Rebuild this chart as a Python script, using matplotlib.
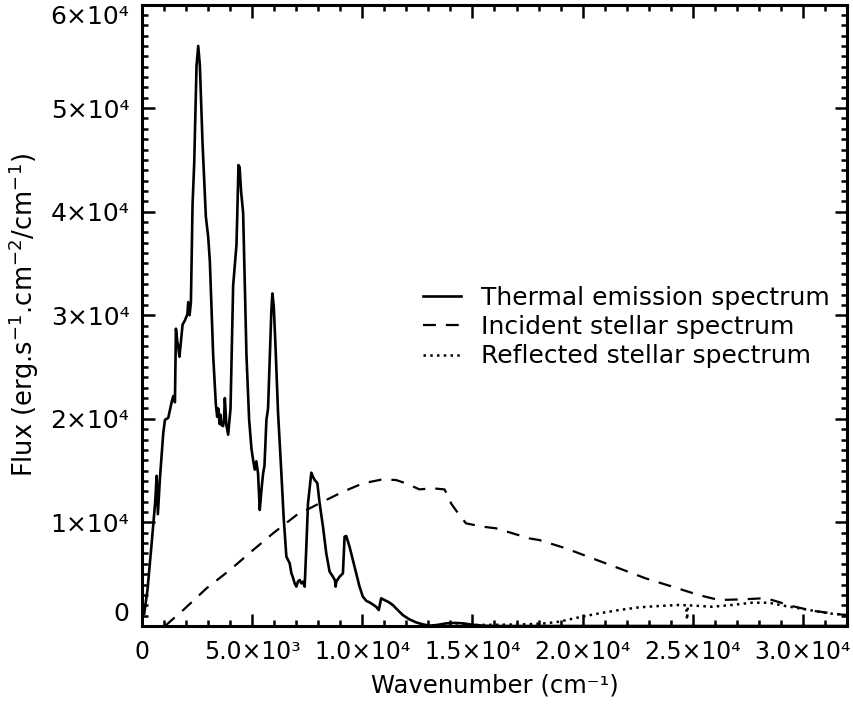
import matplotlib
matplotlib.use("Agg")
import matplotlib.pyplot as plt
from matplotlib.ticker import MultipleLocator, FixedLocator, FixedFormatter

# ---------------- data ----------------
thermal_wn = [100, 250, 439, 600, 665, 720, 815, 966, 1042, 1193, 1344, 1419, 1495, 1540, 1600,
              1646, 1700, 1842, 1948, 2060, 2099, 2160, 2220, 2295, 2370, 2475, 2552, 2627, 2748,
              2899, 3003, 3080, 3231, 3352, 3412, 3460, 3520, 3560, 3610, 3680, 3720, 3760, 3830,
              3911, 4018, 4137, 4213, 4288, 4318, 4379, 4430, 4499, 4590, 4742, 4863, 4969, 5045,
              5118, 5190, 5269, 5345, 5420, 5496, 5560, 5647, 5722, 5798, 5873, 5919, 5980, 6054,
              6175, 6327, 6432, 6553, 6704, 6780, 6850, 6930, 7007, 7080, 7157, 7230, 7300, 7383,
              7459, 7535, 7686, 7760, 7836, 7957, 8063, 8214, 8365, 8516, 8667, 8760, 8790, 8817,
              8969, 9119, 9195, 9270, 9421, 9572, 9723, 9874, 10024, 10175, 10401, 10627, 10748,
              10855, 11005, 11156, 11232, 11382, 11533, 11835, 12139, 12441, 12742, 13045, 13400,
              13800, 14200, 14600, 15000, 15500, 16000, 20000, 25000, 32000]
thermal_flux = [1200, 3500, 8000, 12000, 14500, 10800, 14300, 18650, 19900, 20100, 21600, 22200,
                21600, 28700, 27500, 26900, 26000, 29100, 29500, 30100, 31270, 30000, 31270, 40700,
                44700, 54100, 56000, 54100, 46600, 39500, 37600, 35200, 26100, 21400, 20200, 21000,
                19500, 20400, 19400, 19300, 19800, 22000, 19400, 18470, 21000, 32850, 34800, 36800,
                39200, 44500, 44300, 41900, 39900, 26100, 19900, 17100, 16000, 15100, 15900, 14700,
                11200, 13100, 14700, 15500, 19900, 21000, 25800, 30500, 32100, 30900, 27300, 20600,
                14700, 10400, 6700, 6050, 5100, 4700, 4120, 3800, 4300, 4440, 4120, 4280, 3800,
                7650, 11850, 14800, 14400, 14100, 13800, 11850, 9600, 7000, 5240, 4760, 4400, 3800,
                4280, 4760, 5080, 8620, 8690, 7650, 6370, 5080, 3800, 2830, 2440, 2190, 1860, 1540,
                2670, 2510, 2350, 2250, 2030, 1700, 1060, 640, 350, 160, 30, 100, 250, 300, 250,
                120, 30, 0, 0, 0, 0]

incident_wn = [1042, 1872, 2929, 3986, 5043, 5949, 7007, 8063, 9119, 10024, 10930, 11533, 11986,
               12592, 13196, 13725, 13876, 14027, 14405, 14707, 15460, 16067, 16818, 17574, 18028,
               19237, 20443, 21652, 22860, 24067, 25275, 26181, 27237, 28143, 28596, 29502, 30408,
               31918, 32000]
incident_flux = [0, 1540, 3640, 5400, 7330, 8950, 10700, 11850, 12960, 13770, 14160, 14090, 13770,
                 13190, 13290, 13190, 12640, 11840, 10710, 9910, 9590, 9430, 8950, 8460, 8300,
                 7500, 6530, 5570, 4600, 3800, 2990, 2510, 2570, 2670, 2510, 1930, 1480, 1060, 1040]

reflected_wn = [13000, 14000, 15310, 16500, 17500, 18330, 18934, 19840, 20746, 21652, 22558,
                23464, 24370, 24700, 24740, 24780, 25880, 26785, 27691, 28446, 29201, 30107,
                31163, 31918, 32000]
reflected_flux = [0, 30, 100, 130, 170, 260, 420, 840, 1220, 1540, 1800, 1930, 2030, 2000, 600,
                  2000, 1860, 2030, 2250, 2250, 1930, 1610, 1220, 1060, 1040]

labels = ["Thermal emission spectrum", "Incident stellar spectrum", "Reflected stellar spectrum"]
x_ticks = [0, 5000, 10000, 15000, 20000, 25000, 30000]
x_tick_labels = ["0", "5.0×10³", "1.0×10⁴", "1.5×10⁴", "2.0×10⁴", "2.5×10⁴", "3.0×10⁴"]
y_ticks = [0, 10000, 20000, 30000, 40000, 50000, 60000]
y_tick_labels = ["0", "1×10⁴", "2×10⁴", "3×10⁴", "4×10⁴", "5×10⁴", "6×10⁴"]

# ---------------- figure ----------------
plt.rcParams['font.family'] = ['DejaVu Sans']
plt.rcParams['mathtext.fontset'] = 'dejavusans'
fig = plt.figure(figsize=(8.54, 7.06), dpi=100)
ax = fig.add_axes([142/854, 1 - 626/706, (847-142)/854, (626-4.5)/706])

ax.plot(thermal_wn, thermal_flux, color='black', lw=1.9, label=labels[0])
ax.plot(incident_wn, incident_flux, color='black', lw=1.6, linestyle=(0, (5.8, 4.5)), label=labels[1])
ax.plot(reflected_wn, reflected_flux, color='black', lw=1.8, linestyle=(0, (1, 1.7)), label=labels[2])

ax.set_xlim(0, 32000)
ax.set_ylim(0, 60000)

ax.xaxis.set_major_locator(FixedLocator(x_ticks))
ax.xaxis.set_major_formatter(FixedFormatter(x_tick_labels))
ax.xaxis.set_minor_locator(MultipleLocator(1000))
ax.yaxis.set_major_locator(FixedLocator(y_ticks))
ax.yaxis.set_major_formatter(FixedFormatter(y_tick_labels))
ax.yaxis.set_minor_locator(MultipleLocator(1000))

ax.tick_params(which='both', direction='in', top=True, right=True, width=1.8)
ax.tick_params(which='major', length=9)
ax.tick_params(which='minor', length=4.5)
ax.tick_params(axis='x', which='major', labelsize=17, pad=10)
ax.tick_params(axis='y', which='major', labelsize=18, pad=9)
for s in ax.spines.values():
    s.set_linewidth(2.2)

ylabs = ax.get_yticklabels()
ylabs[0].set_verticalalignment('bottom')
ylabs[-1].set_verticalalignment('top')

ax.set_xlabel("Wavenumber (cm⁻¹)", fontsize=17.5, labelpad=7)
ax.set_ylabel(r"Flux (erg.s$^{-1}$.cm$^{-2}$/cm$^{-1}$)", fontsize=18.5, labelpad=7)

leg = ax.legend(loc='center left', bbox_to_anchor=(0.3986, 0.481), frameon=False,
                fontsize=18, handlelength=1.52, handletextpad=0.8, labelspacing=0.21,
                borderpad=0, borderaxespad=0)

fig.savefig("out.png", dpi=100)
